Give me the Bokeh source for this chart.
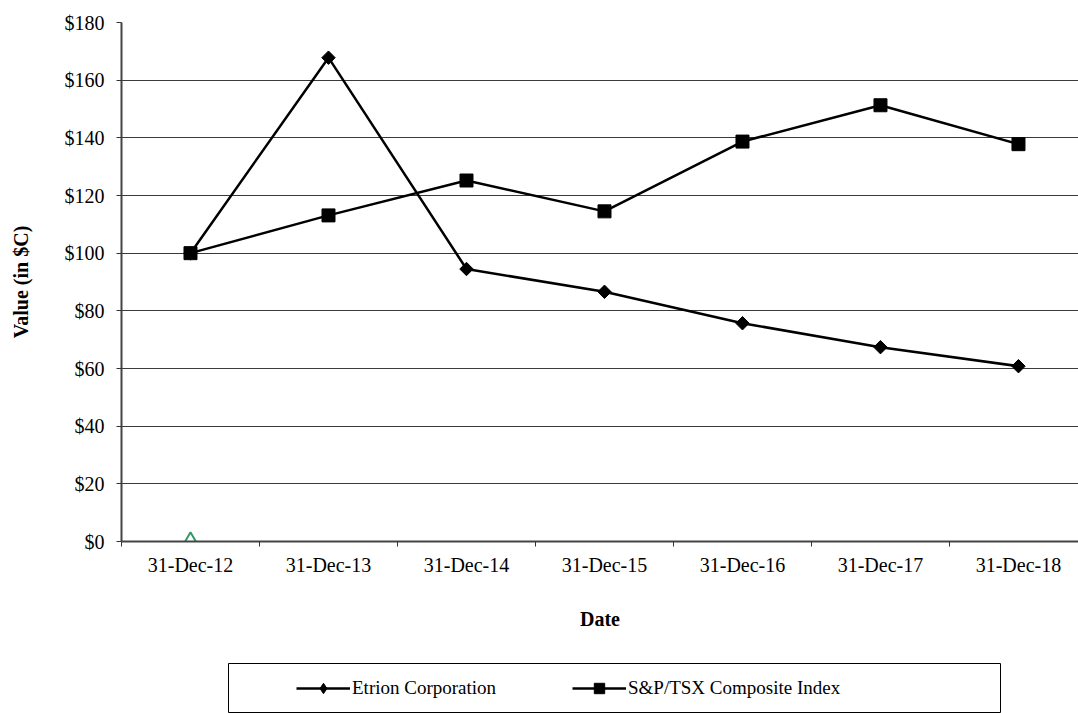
from bokeh.plotting import figure
from bokeh.layouts import column
from bokeh.models import (Range1d, LinearAxis, FixedTicker, NumeralTickFormatter,
                          Legend, LegendItem, ColumnDataSource, Grid)
from bokeh.embed import file_html
from bokeh.resources import INLINE

# ---- data ----
dates = ["31-Dec-12", "31-Dec-13", "31-Dec-14", "31-Dec-15",
         "31-Dec-16", "31-Dec-17", "31-Dec-18"]
etrion = [100.0, 167.8, 94.5, 86.6, 75.7, 67.4, 60.8]
sptsx = [100.0, 113.1, 125.2, 114.5, 138.7, 151.3, 137.8]
marker_dates = ["31-Dec-12"]
marker_values = [0.0]
y_ticks = [0, 20, 40, 60, 80, 100, 120, 140, 160, 180]
series_names = ["Etrion Corporation", "S&P/TSX Composite Index"]

FONT = "Liberation Serif"
idx = list(range(len(dates)))

src_e = ColumnDataSource(dict(x=idx, y=etrion))
src_s = ColumnDataSource(dict(x=idx, y=sptsx))
src_m = ColumnDataSource(dict(x=[dates.index(d) for d in marker_dates], y=marker_values))

p = figure(width=1078, height=663, output_backend="svg", toolbar_location=None,
           x_range=Range1d(-0.5, 6.435), y_range=Range1d(0, 180),
           x_axis_type=None, y_axis_type=None,
           min_border_left=121, min_border_right=0, min_border_top=22,
           min_border_bottom=122)
p.frame_align = False
p.outline_line_color = None
p.background_fill_color = "white"
p.border_fill_color = "white"

# y axis
yaxis = LinearAxis(ticker=FixedTicker(ticks=y_ticks),
                   formatter=NumeralTickFormatter(format="$0"))
yaxis.axis_label = "Value (in $C)"
yaxis.axis_label_text_font = FONT
yaxis.axis_label_text_font_style = "bold"
yaxis.axis_label_text_font_size = "20px"
yaxis.axis_label_text_color = "black"
yaxis.axis_label_standoff = 30
yaxis.major_label_text_font = FONT
yaxis.major_label_text_font_size = "20px"
yaxis.major_label_text_color = "black"
yaxis.major_label_standoff = 12
yaxis.major_tick_in = 0
yaxis.major_tick_out = 5
yaxis.major_tick_line_color = "#333333"
yaxis.minor_tick_line_color = None
yaxis.axis_line_color = "#444444"
yaxis.axis_line_width = 2
p.add_layout(yaxis, "left")

# x axis: labels at category centres, ticks between categories
minor = [i - 0.5 for i in range(len(dates) + 1)]
xaxis = LinearAxis(ticker=FixedTicker(ticks=idx, minor_ticks=minor))
xaxis.major_label_overrides = {i: d for i, d in enumerate(dates)}
xaxis.axis_label = "Date"
xaxis.axis_label_text_font = FONT
xaxis.axis_label_text_font_style = "bold"
xaxis.axis_label_text_font_size = "20px"
xaxis.axis_label_text_color = "black"
xaxis.axis_label_standoff = 29
xaxis.major_label_text_font = FONT
xaxis.major_label_text_font_size = "20px"
xaxis.major_label_text_color = "black"
xaxis.major_label_standoff = 7
xaxis.major_tick_in = 0
xaxis.major_tick_out = 5
xaxis.major_tick_line_color = None
xaxis.minor_tick_in = 0
xaxis.minor_tick_out = 5
xaxis.minor_tick_line_color = "#333333"
xaxis.minor_tick_line_width = 1
xaxis.axis_line_color = "#444444"
xaxis.axis_line_width = 2
p.add_layout(xaxis, "below")

grid = Grid(dimension=1, ticker=FixedTicker(ticks=y_ticks))
grid.grid_line_color = "#3a3a3a"
grid.grid_line_width = 1
p.add_layout(grid)

# series
p.line("x", "y", source=src_e, line_color="black", line_width=2.5)
p.scatter("x", "y", source=src_e, marker="square", angle=0.785398, size=9.5,
          fill_color="black", line_color="black")
p.line("x", "y", source=src_s, line_color="black", line_width=2.5)
p.scatter("x", "y", source=src_s, marker="square", size=13,
          fill_color="black", line_color="black")
p.scatter("x", "y", source=src_m, marker="triangle", size=16,
          fill_color=None, line_color="#339966", line_width=2)

# legend strip below the chart; its frame outline forms the legend box.
# The series glyphs are repeated here only as legend swatches (outside its view).
f2 = figure(width=1078, height=50, output_backend="svg", toolbar_location=None,
            x_range=Range1d(0, 1), y_range=Range1d(-20, -10),
            x_axis_type=None, y_axis_type=None,
            min_border_left=228, min_border_right=78, min_border_top=0,
            min_border_bottom=0)
f2.frame_align = False
f2.outline_line_color = "black"
f2.outline_line_width = 1
f2.xgrid.grid_line_color = None
f2.ygrid.grid_line_color = None
f2.border_fill_color = "white"

l1 = f2.line("x", "y", source=src_e, line_color="black", line_width=2.5)
s1 = f2.scatter("x", "y", source=src_e, marker="diamond", size=12,
                fill_color="black", line_color="black")
l2 = f2.line("x", "y", source=src_s, line_color="black", line_width=2.5)
s2 = f2.scatter("x", "y", source=src_s, marker="square", size=10,
                fill_color="black", line_color="black")

legend = Legend(items=[LegendItem(label=series_names[0], renderers=[l1, s1]),
                       LegendItem(label=series_names[1], renderers=[l2, s2])],
                orientation="horizontal", location=(68, 12))
legend.label_text_font = FONT
legend.label_text_font_size = "19px"
legend.label_text_color = "black"
legend.glyph_width = 54
legend.glyph_height = 26
legend.label_height = 26
legend.label_standoff = 2
legend.label_width = 210
legend.spacing = 10
legend.padding = 0
legend.margin = 0
legend.border_line_color = None
legend.background_fill_alpha = 0
f2.add_layout(legend, "center")

layout = column(p, f2, spacing=0)
open("out.html", "w").write(file_html(layout, INLINE))
